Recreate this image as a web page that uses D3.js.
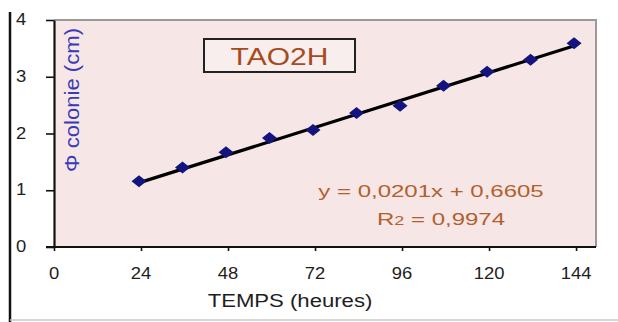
<!DOCTYPE html>
<html>
<head>
<meta charset="utf-8">
<script src="https://cdn.jsdelivr.net/npm/d3@7/dist/d3.min.js"></script>
<style>
  html, body { margin: 0; padding: 0; background: #ffffff; }
  svg { display: block; }
  text { font-family: "Liberation Sans", Arial, sans-serif; }
</style>
</head>
<body>
<svg id="chart" width="618" height="322"></svg>
<script>
// Colony diameter over time, strain TAO2H
const hours = [24, 36, 48, 60, 72, 84, 96, 108, 120, 132, 144];
const diameters = [1.16, 1.40, 1.67, 1.92, 2.06, 2.36, 2.49, 2.84, 3.09, 3.30, 3.59];
const xTicks = [0, 24, 48, 72, 96, 120, 144];
const yTicks = [0, 1, 2, 3, 4];
const fitSlope = 0.0201;
const fitIntercept = 0.6605;
const fitR2 = "0,9974";

const svg = d3.select("#chart");
const plot = { left: 54, right: 596, top: 20, bottom: 247 };

const x = d3.scaleLinear().domain([0, 149.5]).range([plot.left, plot.right]);
const y = d3.scaleLinear().domain([0, 4]).range([plot.bottom, plot.top]);

// outer frame lines
svg.append("line").attr("x1", 10).attr("x2", 10).attr("y1", 12).attr("y2", 322)
  .attr("stroke", "#111").attr("stroke-width", 2.5);
svg.append("line").attr("x1", 10).attr("x2", 618).attr("y1", 320).attr("y2", 320)
  .attr("stroke", "#c8c8c8").attr("stroke-width", 1.5);

// plot area
svg.append("rect")
  .attr("x", plot.left).attr("y", plot.top)
  .attr("width", plot.right - plot.left).attr("height", plot.bottom - plot.top)
  .attr("fill", "#f6e6e6");
svg.append("path")
  .attr("d", `M${plot.left},${plot.top}H${plot.right}V${plot.bottom}`)
  .attr("fill", "none").attr("stroke", "#9a9a9a").attr("stroke-width", 2);

// axes
const gx = svg.append("g").attr("transform", `translate(0,${plot.bottom})`)
  .call(d3.axisBottom(x).tickValues(xTicks).tickSize(4).tickSizeOuter(0).tickFormat(""));
const gy = svg.append("g").attr("transform", `translate(${plot.left},0)`)
  .call(d3.axisLeft(y).tickValues(yTicks).tickSize(8).tickSizeOuter(0).tickFormat(""));
[gx, gy].forEach(g => {
  g.select(".domain").attr("stroke", "#111").attr("stroke-width", 2.2);
  g.selectAll(".tick line").attr("stroke", "#111").attr("stroke-width", 1.6);
});
gx.select(".domain").attr("d", `M${plot.left - 8},0H${plot.right}`);

function label(sel, px, py, str, size, color, sx) {
  return sel.append("text")
    .attr("transform", `translate(${px},${py}) scale(${sx},1)`)
    .attr("text-anchor", "middle")
    .attr("font-size", size)
    .attr("fill", color)
    .text(str);
}

// tick labels
xTicks.forEach(t => label(svg, x(t), 279, String(t), 16, "#1e1e1e", 1.15));
yTicks.forEach(t => label(svg, 21, y(t) + 5, String(t), 16, "#1e1e1e", 1.15));

// axis titles
label(svg, 290, 307, "TEMPS (heures)", 18, "#1e1e1e", 1.23);
svg.append("text")
  .attr("transform", `translate(79,100) rotate(-90)`)
  .attr("text-anchor", "middle")
  .attr("font-size", 20)
  .attr("fill", "#3a3ab8")
  .attr("textLength", 144)
  .attr("lengthAdjust", "spacingAndGlyphs")
  .text("Φ colonie (cm)");

// title box
svg.append("rect").attr("x", 204).attr("y", 39).attr("width", 151).attr("height", 33)
  .attr("fill", "#f9eeee").attr("stroke", "#222").attr("stroke-width", 2);
label(svg, 279.5, 65, "TAO2H", 24, "#a84a1c", 1.25);

// trend line from fitted coefficients
const fit = t => fitSlope * t + fitIntercept;
const xr = d3.extent(hours);
svg.append("line")
  .attr("x1", x(xr[0])).attr("y1", y(fit(xr[0])))
  .attr("x2", x(xr[1])).attr("y2", y(fit(xr[1])))
  .attr("stroke", "#000").attr("stroke-width", 3.2);

// measured points (diamonds)
svg.append("g").selectAll("path").data(hours).join("path")
  .attr("d", "M0,-6L7.5,0L0,6L-7.5,0Z")
  .attr("transform", (d, i) => `translate(${x(d) - 2},${y(diameters[i])})`)
  .attr("fill", "#14147e");

// equation and R²
label(svg, 431, 197, `y = ${String(fitSlope).replace(".", ",")}x + ${String(fitIntercept).replace(".", ",")}`,
  16, "#b2602e", 1.5);
const r = svg.append("text")
  .attr("transform", `translate(441,225) scale(1.5,1)`)
  .attr("text-anchor", "middle")
  .attr("font-size", 16)
  .attr("fill", "#b2602e");
r.append("tspan").text("R");
r.append("tspan").attr("font-size", 12).text("2");
r.append("tspan").text(" = " + fitR2);
</script>
</body>
</html>
